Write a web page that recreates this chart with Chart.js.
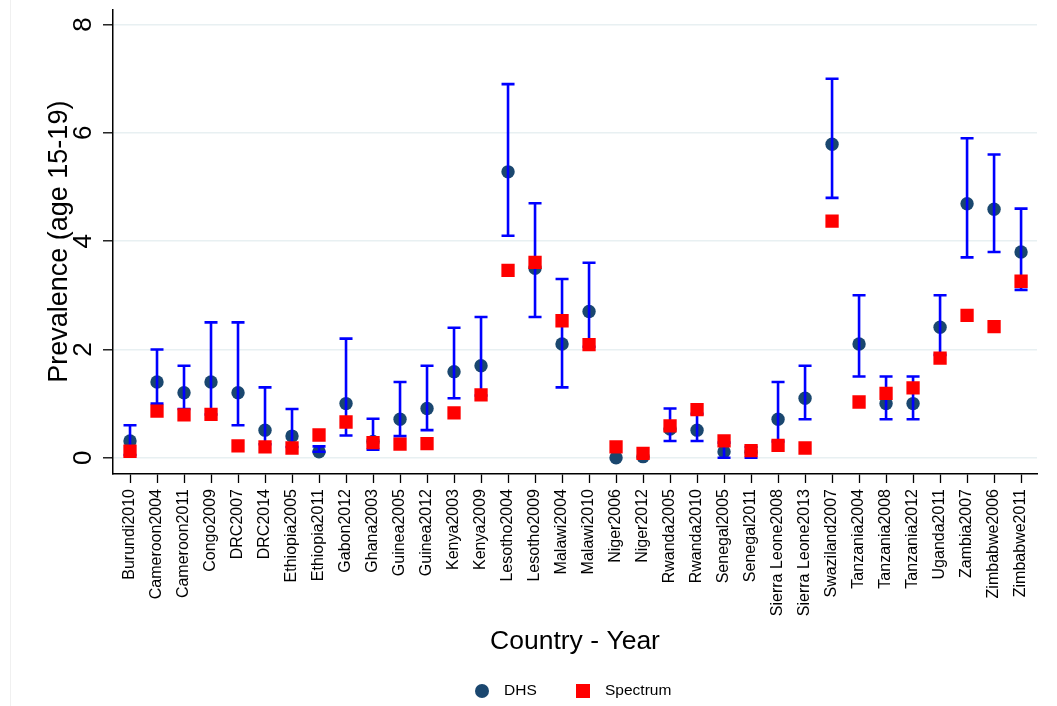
<!DOCTYPE html>
<html>
<head>
<meta charset="utf-8">
<script src="https://cdn.jsdelivr.net/npm/chart.js@4"></script>
<style>
  body { margin: 0; background: #fff; }
  .chart-box { position: relative; width: 1057px; height: 706px; }
  .chart-box::before {
    content: ""; position: absolute; left: 10px; top: 0; bottom: 0;
    border-left: 1px solid #f0f0f0;
  }
</style>
</head>
<body>
<div class="chart-box"><canvas id="chart"></canvas></div>
<script>
// survey labels along the x axis
const categories = [
  "Burundi2010", "Cameroon2004", "Cameroon2011", "Congo2009", "DRC2007", "DRC2014",
  "Ethiopia2005", "Ethiopia2011", "Gabon2012", "Ghana2003", "Guinea2005", "Guinea2012",
  "Kenya2003", "Kenya2009", "Lesotho2004", "Lesotho2009", "Malawi2004", "Malawi2010",
  "Niger2006", "Niger2012", "Rwanda2005", "Rwanda2010", "Senegal2005", "Senegal2011",
  "Sierra Leone2008", "Sierra Leone2013", "Swaziland2007", "Tanzania2004", "Tanzania2008",
  "Tanzania2012", "Uganda2011", "Zambia2007", "Zimbabwe2006", "Zimbabwe2011"
];

// DHS estimate with its confidence interval
const dhs = [0.31, 1.40, 1.20, 1.40, 1.20, 0.51, 0.40, 0.11, 1.00, 0.30, 0.71, 0.91,
  1.59, 1.70, 5.28, 3.50, 2.10, 2.70, 0.00, 0.02, 0.53, 0.51, 0.11, 0.10,
  0.71, 1.10, 5.79, 2.10, 1.00, 1.00, 2.41, 4.69, 4.59, 3.80];
const ciLow = [0.05, 1.00, 0.90, 0.80, 0.60, 0.25, 0.20, 0.11, 0.41, 0.15, 0.40, 0.51,
  1.10, 1.15, 4.10, 2.60, 1.30, 2.05, null, null, 0.31, 0.31, 0.00, 0.00,
  0.30, 0.71, 4.80, 1.50, 0.71, 0.71, 1.90, 3.70, 3.80, 3.10];
const ciHigh = [0.60, 2.00, 1.70, 2.50, 2.50, 1.30, 0.90, 0.21, 2.20, 0.72, 1.40, 1.70,
  2.40, 2.60, 6.90, 4.70, 3.30, 3.60, null, null, 0.91, 0.81, 0.28, 0.20,
  1.40, 1.70, 7.00, 3.00, 1.50, 1.50, 3.00, 5.90, 5.60, 4.60];

// Spectrum model values
const spectrum = [0.12, 0.86, 0.79, 0.80, 0.22, 0.20, 0.18, 0.42, 0.66, 0.28, 0.25, 0.26,
  0.83, 1.16, 3.46, 3.61, 2.53, 2.09, 0.20, 0.08, 0.59, 0.89, 0.31, 0.13,
  0.23, 0.18, 4.37, 1.03, 1.19, 1.29, 1.84, 2.63, 2.42, 3.26];

const yTicks = [0, 2, 4, 6, 8];

const FONT = "'Liberation Sans', Arial, sans-serif";
const NAVY = "#1a476f";
const RED = "#ff0000";
const BLUE = "#0000ff";

// blue range caps, drawn right after the DHS dots so the squares sit on top
const errorBars = {
  id: "errorBars",
  afterDatasetDraw(chart, args) {
    if (args.index !== 0) return;
    const { ctx, scales: { x, y } } = chart;
    ctx.save();
    ctx.strokeStyle = BLUE;
    ctx.lineWidth = 2.6;
    ciLow.forEach((lo, i) => {
      if (lo === null) return;
      const px = x.getPixelForValue(i);
      const top = y.getPixelForValue(ciHigh[i]);
      const bot = y.getPixelForValue(lo);
      ctx.beginPath();
      ctx.moveTo(px, top); ctx.lineTo(px, bot);
      ctx.moveTo(px - 6.5, top); ctx.lineTo(px + 6.5, top);
      ctx.moveTo(px - 6.5, bot); ctx.lineTo(px + 6.5, bot);
      ctx.stroke();
    });
    ctx.restore();
  }
};

// legend under the x title, centred on the plot area
const bottomLegend = {
  id: "bottomLegend",
  afterDraw(chart) {
    const { ctx, chartArea } = chart;
    const cx = (chartArea.left + chartArea.right) / 2;
    const cy = 691;
    ctx.save();
    ctx.font = "15.5px " + FONT;
    ctx.textBaseline = "middle";
    ctx.fillStyle = NAVY;
    ctx.beginPath();
    ctx.arc(cx - 93, cy, 7, 0, Math.PI * 2);
    ctx.fill();
    ctx.fillStyle = RED;
    ctx.fillRect(cx + 1, cy - 7, 14, 14);
    ctx.fillStyle = "#000";
    ctx.fillText(chart.data.datasets[0].label, cx - 71, cy);
    ctx.fillText(chart.data.datasets[1].label, cx + 30, cy);
    ctx.restore();
  }
};

new Chart(document.getElementById("chart"), {
  type: "scatter",
  data: {
    datasets: [
      {
        label: "DHS",
        data: dhs.map((v, i) => ({ x: i, y: v })),
        pointStyle: "circle",
        pointRadius: 6.7,
        backgroundColor: NAVY,
        borderWidth: 0,
        order: 2
      },
      {
        label: "Spectrum",
        data: spectrum.map((v, i) => ({ x: i, y: v })),
        pointStyle: "rect",
        pointRadius: 9.4,
        backgroundColor: RED,
        borderWidth: 0,
        order: 1
      }
    ]
  },
  options: {
    responsive: true,
    maintainAspectRatio: false,
    animation: false,
    events: [],
    layout: { padding: { top: 7, right: 20, left: 0, bottom: 0 } },
    plugins: { legend: { display: false }, tooltip: { enabled: false } },
    scales: {
      x: {
        type: "linear",
        min: -0.63,
        max: categories.length - 1 + 0.59,
        afterBuildTicks: s => { s.ticks = categories.map((c, i) => ({ value: i })); },
        afterFit: s => { s.height = 232; s.paddingLeft = 0; s.paddingRight = 0; },
        ticks: {
          autoSkip: false,
          minRotation: 90,
          maxRotation: 90,
          padding: 6,
          color: "#000",
          font: { family: FONT, size: 16 },
          callback: v => categories[v]
        },
        grid: { drawOnChartArea: false, tickLength: 9, tickColor: "#000", tickWidth: 1.3 },
        border: { color: "#000", width: 1.5 },
        title: {
          display: true,
          text: "Country - Year",
          color: "#000",
          font: { family: FONT, size: 26.5 },
          padding: { top: 0, bottom: 48 }
        }
      },
      y: {
        min: -0.3,
        max: 8.28,
        afterBuildTicks: s => { s.ticks = yTicks.map(v => ({ value: v })); },
        afterFit: s => { s.width = 113; s.paddingTop = 0; s.paddingBottom = 0; },
        ticks: {
          minRotation: 90,
          maxRotation: 90,
          crossAlign: "center",
          padding: 12,
          color: "#000",
          font: { family: FONT, size: 26 }
        },
        grid: { color: "#e8f0f2", lineWidth: 1.6, tickLength: 10, tickColor: "#000", tickWidth: 1.3 },
        border: { color: "#000", width: 1.5 },
        title: {
          display: true,
          text: "Prevalence (age 15-19)",
          color: "#000",
          font: { family: FONT, size: 27 },
          padding: { top: 43, bottom: 0 }
        }
      }
    }
  },
  plugins: [errorBars, bottomLegend]
});
</script>
</body>
</html>
